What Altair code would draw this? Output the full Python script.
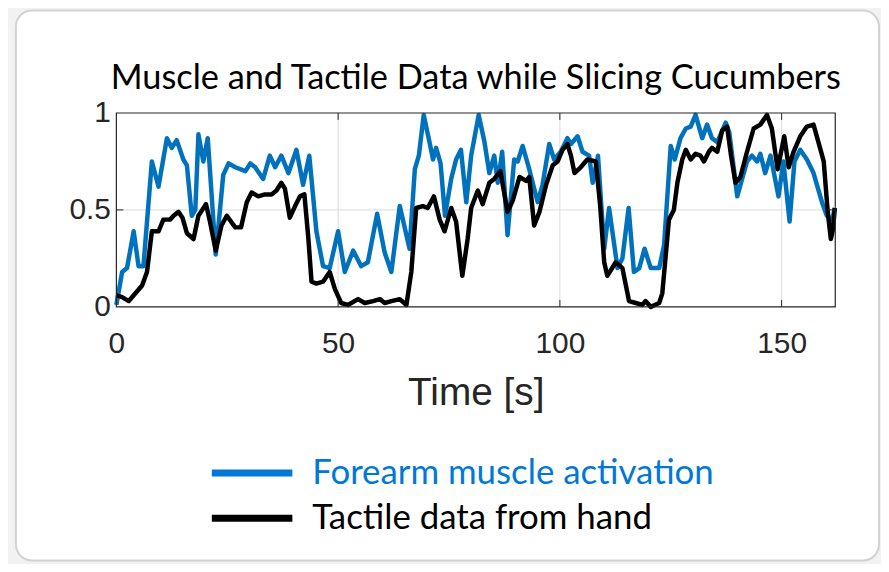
import altair as alt
import pandas as pd

# ---------------- data ----------------
muscle_t = [0, 1.3, 2.4, 3.9, 5.0, 6.1, 8.0, 9.5, 11.4, 12.5,
            13.6, 15.1, 15.9, 17.0, 17.8, 18.5, 19.6, 20.6, 22.4, 24.1,
            25.3, 26.8, 29.1, 30.2, 31.3, 33.1, 34.6, 35.8, 37.2, 38.8,
            40.6, 42.1, 43.5, 45.1, 46.6, 48.1, 50.0, 51.5, 53.4, 55.2,
            56.7, 58.8, 60.5, 62.0, 63.9, 66.1, 67.3, 68.2, 69.3, 70.6,
            71.4, 72.1, 73.1, 74.1, 75.5, 76.6, 77.7, 78.9, 80.0, 81.7,
            83.0, 84.1, 85.2, 86.0, 87.0, 88.2, 89.7, 90.5, 91.6, 93.1,
            95.0, 96.1, 97.6, 98.7, 100.2, 101.7, 102.5, 104.0, 105.1, 106.6,
            107.4, 108.6, 110.0, 111.1, 113.0, 114.1, 115.5, 116.7, 117.9, 119.1,
            120.5, 122.4, 123.5, 125.0, 125.9, 127.2, 128.4, 129.5, 130.6, 132.1,
            133.2, 134.3, 135.5, 137.4, 138.2, 140.0, 141.1, 142.2, 143.3, 144.5,
            145.2, 146.3, 147.5, 149.3, 150.4, 151.8, 152.9, 154.2, 155.7, 157.2,
            159.1, 160.2, 161.4, 162.0]
muscle_v = [0.01, 0.18, 0.20, 0.39, 0.21, 0.21, 0.75, 0.62, 0.87, 0.82,
            0.86, 0.76, 0.73, 0.47, 0.50, 0.89, 0.75, 0.87, 0.27, 0.68,
            0.74, 0.72, 0.70, 0.74, 0.72, 0.66, 0.78, 0.72, 0.78, 0.69,
            0.81, 0.63, 0.78, 0.39, 0.21, 0.20, 0.39, 0.18, 0.29, 0.21,
            0.23, 0.48, 0.28, 0.18, 0.52, 0.30, 0.71, 0.78, 0.99, 0.85,
            0.76, 0.82, 0.74, 0.47, 0.66, 0.76, 0.81, 0.54, 0.78, 0.99,
            0.85, 0.69, 0.78, 0.64, 0.80, 0.37, 0.76, 0.75, 0.83, 0.71,
            0.54, 0.63, 0.84, 0.76, 0.80, 0.87, 0.84, 0.88, 0.80, 0.78,
            0.64, 0.78, 0.30, 0.51, 0.20, 0.25, 0.51, 0.18, 0.20, 0.30,
            0.20, 0.20, 0.32, 0.83, 0.76, 0.87, 0.92, 0.93, 0.99, 0.87,
            0.94, 0.87, 0.85, 0.95, 0.90, 0.57, 0.66, 0.75, 0.78, 0.75,
            0.79, 0.69, 0.78, 0.57, 0.75, 0.44, 0.75, 0.81, 0.76, 0.69,
            0.54, 0.47, 0.45, 0.51]

tactile_t = [0, 1.3, 2.8, 4.3, 5.8, 6.9, 8.0, 9.5, 10.6, 12.1,
             12.9, 14.0, 14.9, 15.9, 17.4, 18.5, 20.2, 21.1, 22.4, 23.7,
             24.9, 26.8, 28.1, 29.4, 30.5, 32.0, 33.5, 35.0, 36.1, 37.2,
             38.0, 39.1, 40.3, 41.4, 42.4, 43.3, 44.0, 45.1, 46.6, 48.1,
             49.3, 50.7, 52.2, 54.5, 56.0, 57.9, 59.4, 60.5, 62.0, 63.9,
             65.4, 66.5, 67.6, 69.1, 70.2, 71.6, 72.9, 74.0, 75.5, 76.6,
             78.0, 79.2, 80.0, 81.5, 82.6, 84.1, 85.2, 86.6, 87.2, 88.2,
             89.4, 90.9, 92.4, 93.1, 94.2, 95.4, 96.9, 98.4, 99.5, 100.6,
             101.7, 102.5, 103.3, 104.7, 106.2, 108.1, 109.1, 110.0, 110.7, 112.6,
             114.1, 115.6, 117.1, 118.6, 119.3, 120.5, 122.4, 123.1, 124.6, 125.7,
             126.5, 127.6, 128.4, 129.5, 130.6, 131.7, 132.5, 133.6, 134.3, 135.5,
             136.6, 137.7, 138.6, 139.6, 140.7, 142.2, 143.7, 145.2, 146.7, 147.8,
             149.1, 150.6, 151.6, 152.7, 154.2, 155.7, 157.2, 158.3, 159.5, 160.4,
             161.1, 161.6, 162.0]
tactile_v = [0.06, 0.05, 0.03, 0.07, 0.11, 0.18, 0.39, 0.39, 0.45, 0.45,
             0.47, 0.49, 0.46, 0.38, 0.35, 0.47, 0.53, 0.44, 0.29, 0.42,
             0.47, 0.41, 0.41, 0.54, 0.59, 0.57, 0.58, 0.58, 0.60, 0.64,
             0.61, 0.46, 0.52, 0.57, 0.58, 0.35, 0.13, 0.12, 0.13, 0.18,
             0.09, 0.02, 0.01, 0.04, 0.02, 0.03, 0.04, 0.02, 0.03, 0.04,
             0.01, 0.18, 0.51, 0.52, 0.51, 0.57, 0.45, 0.39, 0.51, 0.44,
             0.16, 0.35, 0.51, 0.60, 0.53, 0.64, 0.66, 0.70, 0.62, 0.49,
             0.55, 0.67, 0.65, 0.67, 0.42, 0.49, 0.63, 0.73, 0.75, 0.81,
             0.84, 0.78, 0.69, 0.72, 0.76, 0.75, 0.52, 0.23, 0.16, 0.23,
             0.20, 0.03, 0.02, 0.01, 0.03, 0.00, 0.02, 0.07, 0.45, 0.50,
             0.64, 0.76, 0.81, 0.76, 0.79, 0.78, 0.75, 0.80, 0.82, 0.80,
             0.91, 0.93, 0.78, 0.64, 0.67, 0.80, 0.92, 0.94, 0.99, 0.92,
             0.71, 0.88, 0.72, 0.80, 0.88, 0.93, 0.94, 0.85, 0.75, 0.49,
             0.35, 0.40, 0.51]

series_names = ["Forearm muscle activation", "Tactile data from hand"]
series_colors = ["#0072BD", "#000000"]
legend_text_colors = ["#0078D7", "#000000"]
x_ticks = [0, 50, 100, 150]
y_ticks = [0, 0.5, 1]
x_grid = [50, 100, 150]
y_grid = [0.5]
title_text = "Muscle and Tactile Data while Slicing Cucumbers"
x_title = "Time [s]"

# ---------------- layout ----------------
W, H = 723, 195
PAD_L, PAD_T = 109, 104
TOTAL_W, TOTAL_H = 878, 556
AX_COLOR = "#262626"
GRID_COLOR = "#dcdcdc"
TXT_FONT = "Lato"
AX_FONT = "Liberation Sans"

df = pd.DataFrame(
    [{"t": t, "v": v, "series": series_names[0], "i": i}
     for i, (t, v) in enumerate(zip(muscle_t, muscle_v))]
    + [{"t": t, "v": v, "series": series_names[1], "i": i}
       for i, (t, v) in enumerate(zip(tactile_t, tactile_v))]
)

x_scale = alt.Scale(domain=[0, 162.1], nice=False, zero=False)
y_scale = alt.Scale(domain=[0, 1], nice=False)
color_scale = alt.Scale(domain=series_names, range=series_colors)

one = pd.DataFrame({"k": [0]})

# card background
card = alt.Chart(one).mark_rect(
    fill="white", stroke="#d2d2d2", strokeWidth=2, cornerRadius=16
).encode(
    x=alt.value(-101), x2=alt.value(W + 44),
    y=alt.value(-103), y2=alt.value(H + 255),
)

# grid lines
xgrid = alt.Chart(pd.DataFrame({"t": x_grid})).mark_rule(
    color=GRID_COLOR, strokeWidth=1
).encode(x=alt.X("t:Q", scale=x_scale))
ygrid = alt.Chart(pd.DataFrame({"v": y_grid})).mark_rule(
    color=GRID_COLOR, strokeWidth=1
).encode(y=alt.Y("v:Q", scale=y_scale))

lines = alt.Chart(df).mark_line(strokeWidth=4.5, strokeJoin="round").encode(
    x=alt.X("t:Q", scale=x_scale,
            axis=alt.Axis(values=x_ticks, title=x_title, grid=False,
                          domain=False, ticks=False, tickSize=0, zindex=2,
                          labelFlush=False,
                          labelFont=AX_FONT, labelFontSize=30,
                          labelColor=AX_COLOR, labelPadding=22,
                          titleFont=AX_FONT, titleFontSize=39,
                          titleFontWeight="normal", titleColor=AX_COLOR,
                          titlePadding=15)),
    y=alt.Y("v:Q", scale=y_scale,
            axis=alt.Axis(values=y_ticks, format=".1~f", title=None,
                          grid=False, domain=False, ticks=False, tickSize=0,
                          zindex=2, labelFlush=False,
                          labelFont=AX_FONT, labelFontSize=30,
                          labelColor=AX_COLOR, labelPadding=6)),
    color=alt.Color("series:N", scale=color_scale, legend=None),
    order="i:Q",
)

# frame box
frame = alt.Chart(one).mark_rect(
    fill=None, stroke=AX_COLOR, strokeWidth=1.2
).encode(x=alt.value(0), x2=alt.value(W), y=alt.value(0), y2=alt.value(H))

# inward tick marks (MATLAB style)
tick_df = pd.DataFrame({"t": x_grid})
xt_bottom = alt.Chart(tick_df).mark_rule(color=AX_COLOR, strokeWidth=1).encode(
    x=alt.X("t:Q", scale=x_scale), y=alt.value(H), y2=alt.value(H - 7))
xt_top = alt.Chart(tick_df).mark_rule(color=AX_COLOR, strokeWidth=1).encode(
    x=alt.X("t:Q", scale=x_scale), y=alt.value(0), y2=alt.value(7))
ytick_df = pd.DataFrame({"v": y_grid})
yt_left = alt.Chart(ytick_df).mark_rule(color=AX_COLOR, strokeWidth=1).encode(
    y=alt.Y("v:Q", scale=y_scale), x=alt.value(0), x2=alt.value(7))
yt_right = alt.Chart(ytick_df).mark_rule(color=AX_COLOR, strokeWidth=1).encode(
    y=alt.Y("v:Q", scale=y_scale), x=alt.value(W), x2=alt.value(W - 7))

# title
title = alt.Chart(pd.DataFrame({"label": [title_text]})).mark_text(
    font=TXT_FONT, fontSize=34.5, color="black", align="center",
    baseline="alphabetic"
).encode(text="label:N", x=alt.value(W / 2), y=alt.value(-24))

# legend (drawn below the axis title)
leg_layers = []
leg_y = [362, 407.5]
for k in range(2):
    ldf = pd.DataFrame({"label": [series_names[k]]})
    leg_layers.append(
        alt.Chart(ldf).mark_rule(color=legend_text_colors[k], strokeWidth=7).encode(
            x=alt.value(96), x2=alt.value(177),
            y=alt.value(leg_y[k]), y2=alt.value(leg_y[k]))
    )
    leg_layers.append(
        alt.Chart(ldf).mark_text(
            font=TXT_FONT, fontSize=35, color=legend_text_colors[k],
            align="left", baseline="alphabetic"
        ).encode(text="label:N", x=alt.value(197), y=alt.value(leg_y[k] + 11))
    )

chart = alt.layer(
    card, xgrid, ygrid, lines, frame, xt_bottom, xt_top, yt_left, yt_right,
    title, *leg_layers
).properties(
    width=W, height=H,
    autosize=alt.AutoSizeParams(type="none"),
    padding={"left": PAD_L, "top": PAD_T,
             "right": TOTAL_W - PAD_L - W, "bottom": TOTAL_H - PAD_T - H},
    background="#f2f2f2",
).configure_view(stroke=None)

chart.save("out.html", embed_options={"renderer": "svg", "actions": False})
